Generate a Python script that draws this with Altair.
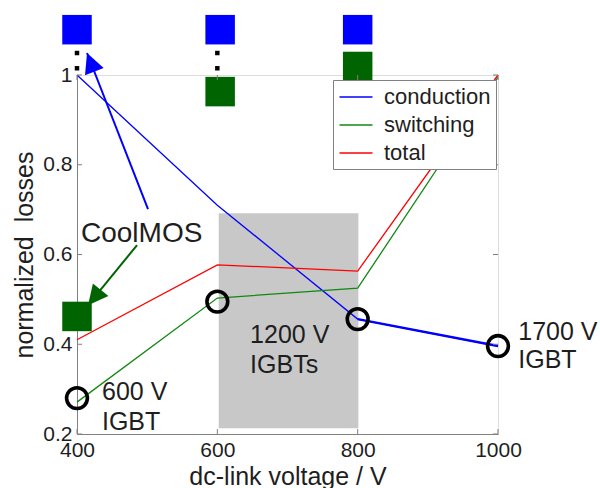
import altair as alt
import pandas as pd

# ---- loss curves (normalized) versus dc-link voltage ----
voltage = [400, 600, 800, 1000]
conduction = [1.0, 0.71, 0.456, 0.396]
switching = [0.271, 0.503, 0.525, 0.995]
total = [0.41, 0.577, 0.563, 1.0]

series_names = ["conduction", "switching", "total"]
series_colors = ["#0000ff", "#118811", "#ff0000"]

# IGBT operating points (open circles)
igbt_v = [400, 600, 800, 1000]
igbt_loss = [0.28, 0.495, 0.456, 0.396]

# shaded region of the 1200 V IGBTs
band_v = [602, 801]
band_loss = [0.213, 0.692]

# device markers (squares) and the dotted separators
blue_sq_v = [400, 604, 800]
blue_sq_loss = [1.101, 1.101, 1.101]
green_sq_v = [604, 800, 400]
green_sq_loss = [0.963, 1.019, 0.462]
dot_v = [400, 400, 600, 600]
dot_loss = [1.049, 1.015, 1.049, 1.015]

# CoolMOS arrows: tail -> tip, with head rotation in degrees
arrow_tail_v = [501.2, 485.6]
arrow_tail_loss = [0.701, 0.621]
arrow_tip_v = [414.3, 415.7]
arrow_tip_loss = [1.049, 0.487]
arrow_angle = [338.6, 219.2]
arrow_color = ["#0000ff", "#006400"]

# text annotations
note_text = ["600 V", "IGBT", "1200 V", "IGBTs", "1700 V", "IGBT"]
note_v = [435.6, 435.6, 646.7, 646.7, 1028.9, 1028.9]
note_loss = [0.276, 0.209, 0.403, 0.336, 0.409, 0.347]
cool_text = ["CoolMOS"]
cool_v = [405.7]
cool_loss = [0.628]

x_ticks = [400, 600, 800, 1000]
y_ticks = [0.2, 0.4, 0.6, 0.8, 1.0]

W, H = 421, 359
FONT = "Liberation Sans"
TXT = "#1e1e1e"
FRAME = "#808080"

x_scale = alt.Scale(domain=[400, 1000], nice=False, zero=False)
y_scale = alt.Scale(domain=[0.2, 1.0], nice=False, zero=False)

x_axis = alt.Axis(
    values=x_ticks, ticks=False, grid=False, domainColor=FRAME,
    labelFontSize=21, labelFont=FONT, labelColor=TXT, labelPadding=5,
    labelFlush=False, labelOverlap=False, format="d",
    title="dc-link voltage / V", titleFontSize=25, titleFont=FONT,
    titleFontWeight="normal", titleColor=TXT, titleX=W / 2, titleY=50,
    titleBaseline="alphabetic", titleAlign="center",
)
y_axis = alt.Axis(
    values=y_ticks, ticks=False, grid=False, domainColor=FRAME,
    labelFontSize=21, labelFont=FONT, labelColor=TXT, labelPadding=5,
    labelFlush=False, labelOverlap=False,
    labelExpr="datum.value == 1 ? '1' : format(datum.value, '.1f')",
    title="normalized \u00a0losses", titleFontSize=25, titleFont=FONT,
    titleFontWeight="normal", titleColor=TXT, titleX=-45, titleY=H / 2,
    titleBaseline="alphabetic", titleAlign="center", titleAngle=270,
)


def X(field):
    return alt.X(f"{field}:Q", scale=x_scale, axis=x_axis)


def Y(field):
    return alt.Y(f"{field}:Q", scale=y_scale, axis=y_axis)


rows = []
for name, vals in zip(series_names, [conduction, switching, total]):
    for v, l in zip(voltage, vals):
        rows.append({"series": name, "v": v, "loss": l})
curves = pd.DataFrame(rows)

band = pd.DataFrame({"v": [band_v[0]], "v2": [band_v[1]],
                     "loss": [band_loss[0]], "loss2": [band_loss[1]]})
band_layer = alt.Chart(band).mark_rect(color="#c8c8c8").encode(
    x=X("v"), x2="v2", y=Y("loss"), y2="loss2")

line_layer = alt.Chart(curves).mark_line(strokeWidth=1.3).encode(
    x=X("v"), y=Y("loss"),
    color=alt.Color(
        "series:N",
        scale=alt.Scale(domain=series_names, range=series_colors),
        legend=alt.Legend(
            title=None, orient="none", legendX=256, legendY=5,
            fillColor="white", strokeColor=FRAME, padding=5,
            symbolType="M-1.5,0L1.5,0", symbolSize=484, symbolStrokeWidth=1.5,
            symbolOffset=6, labelOffset=16, rowPadding=5,
            labelFontSize=22, labelFont=FONT, labelColor=TXT,
        ),
    ),
    detail="series:N",
)

# the high-voltage part of the conduction curve is drawn heavier
cond_hv = pd.DataFrame({"v": voltage[2:], "loss": conduction[2:]})
cond_hv_layer = alt.Chart(cond_hv).mark_line(color="#0000ff", strokeWidth=2.4).encode(
    x=X("v"), y=Y("loss"))

igbt = pd.DataFrame({"v": igbt_v, "loss": igbt_loss})
circle_layer = alt.Chart(igbt).mark_point(
    shape="circle", filled=False, size=434, strokeWidth=3.6, color="black", opacity=1
).encode(x=X("v"), y=Y("loss"))

blue_sq = pd.DataFrame({"v": blue_sq_v, "loss": blue_sq_loss})
blue_sq_layer = alt.Chart(blue_sq).mark_point(
    shape="square", filled=True, size=870, color="#0000ff", opacity=1
).encode(x=X("v"), y=Y("loss"))

green_sq = pd.DataFrame({"v": green_sq_v, "loss": green_sq_loss})
green_sq_layer = alt.Chart(green_sq).mark_point(
    shape="square", filled=True, size=870, color="#006400", opacity=1
).encode(x=X("v"), y=Y("loss"))

dots = pd.DataFrame({"v": dot_v, "loss": dot_loss})
dot_layer = alt.Chart(dots).mark_point(
    shape="square", filled=True, size=20, color="black", opacity=1
).encode(x=X("v"), y=Y("loss"))

arrows = pd.DataFrame({
    "v": arrow_tail_v, "loss": arrow_tail_loss,
    "v2": arrow_tip_v, "loss2": arrow_tip_loss,
    "angle": arrow_angle, "c": arrow_color,
})
shaft_layer = alt.Chart(arrows).mark_rule(strokeWidth=2).encode(
    x=X("v"), y=Y("loss"), x2="v2", y2="loss2",
    color=alt.Color("c:N", scale=None))
head_layer = alt.Chart(arrows).mark_point(
    shape="M0,0L1,2L-1,2Z", filled=True, size=400, opacity=1, strokeWidth=0
).encode(
    x=alt.X("v2:Q", scale=x_scale, axis=x_axis),
    y=alt.Y("loss2:Q", scale=y_scale, axis=y_axis),
    angle=alt.Angle("angle:Q", scale=None),
    color=alt.Color("c:N", scale=None))

notes = pd.DataFrame({"t": note_text, "v": note_v, "loss": note_loss})
note_layer = alt.Chart(notes).mark_text(
    align="left", baseline="alphabetic", fontSize=25, font=FONT, color=TXT
).encode(x=X("v"), y=Y("loss"), text="t:N")

cool = pd.DataFrame({"t": cool_text, "v": cool_v, "loss": cool_loss})
cool_layer = alt.Chart(cool).mark_text(
    align="left", baseline="alphabetic", fontSize=28, font=FONT, color=TXT
).encode(x=X("v"), y=Y("loss"), text="t:N")

# inward tick marks on all four sides of the box
yt = pd.DataFrame({"loss": y_ticks})
xt = pd.DataFrame({"v": x_ticks})
tick_style = dict(color=FRAME, strokeWidth=1)
tick_left = alt.Chart(yt).mark_rule(**tick_style).encode(
    y=Y("loss"), x=alt.value(0), x2=alt.value(5))
tick_right = alt.Chart(yt).mark_rule(**tick_style).encode(
    y=Y("loss"), x=alt.value(W - 5), x2=alt.value(W))
tick_bottom = alt.Chart(xt).mark_rule(**tick_style).encode(
    x=X("v"), y=alt.value(H - 5), y2=alt.value(H))
tick_top = alt.Chart(xt).mark_rule(**tick_style).encode(
    x=X("v"), y=alt.value(0), y2=alt.value(5))

chart = alt.layer(
    band_layer, line_layer, cond_hv_layer, circle_layer,
    blue_sq_layer, green_sq_layer, dot_layer,
    shaft_layer, head_layer, note_layer, cool_layer,
    tick_left, tick_right, tick_bottom, tick_top,
).properties(
    width=W, height=H,
    autosize=alt.AutoSizeParams(type="none"),
    padding={"left": 77, "top": 75, "right": 102, "bottom": 54},
    background="white",
).configure_view(
    stroke=FRAME, strokeWidth=1
).configure(font=FONT)

chart.save("out.html", embed_options={"renderer": "svg", "actions": False})
